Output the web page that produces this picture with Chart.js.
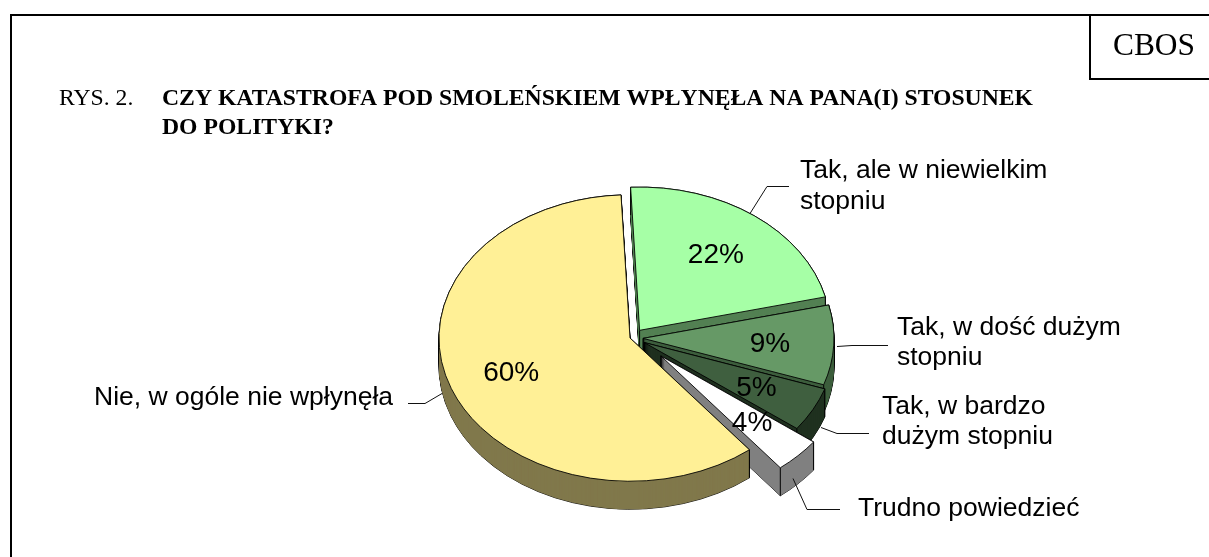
<!DOCTYPE html>
<html lang="pl">
<head>
<meta charset="utf-8">
<title>CBOS</title>
<script src="https://cdn.jsdelivr.net/npm/chart.js@4/dist/chart.umd.min.js"></script>
<style>html,body{margin:0;padding:0;background:#fff}canvas{display:block}</style>
</head>
<body>
<canvas id="c" width="1209" height="557"></canvas>
<script>
const categories = ['Tak, ale w niewielkim stopniu','Tak, w dość dużym stopniu','Tak, w bardzo dużym stopniu','Trudno powiedzieć','Nie, w ogóle nie wpłynęła'];
const percentValues = [22, 9, 5, 4, 60];
const topColors  = ['#A6FFA6','#669966','#3F5F3F','#FFFFFF','#FFF096'];
const sideColors = ['#538053','#3D5E3D','#1F301F','#808080','#80784B'];
const explodePx = [16, 13, 16, 43, 0];
const tilt = 0.75, explodeTilt = 0.6, depth = 28;
const labelFraction = 0.665;
const titleLines = ['CZY KATASTROFA POD SMOLEŃSKIEM WPŁYNĘŁA NA PANA(I) STOSUNEK','DO POLITYKI?'];
const figureLabel = 'RYS. 2.';
const brand = 'CBOS';
const callouts = [
  {lines:['Tak, ale w niewielkim','stopniu'], x:800, y:178, lh:31, path:[[750,213],[767,186],[789,186]]},
  {lines:['Tak, w dość dużym','stopniu'], x:897, y:335, lh:30, path:[[837,346],[852,345],[888,345]]},
  {lines:['Tak, w bardzo','dużym stopniu'], x:882, y:414, lh:30, path:[[821,427],[837,433],[869,433]]},
  {lines:['Trudno powiedzieć'], x:858, y:516, lh:30, path:[[793,478],[807,509],[840,509]]},
  {lines:['Nie, w ogóle nie wpłynęła'], x:94, y:405, lh:30, path:[[442,393],[425,403],[408,403]]}
];

const pie3d = {
  id:'pie3d',
  beforeDatasetsDraw(chart){
    const ctx = chart.ctx, arcs = chart.getDatasetMeta(0).data;
    arcs.forEach((arc,i)=>{
      const mid = (arc.startAngle+arc.endAngle)/2;
      const ex = explodePx[i]*Math.cos(mid), ey = explodePx[i]*Math.sin(mid)*explodeTilt;
      const base = arc.options;
      const paint = (dy,opts)=>{
        ctx.save();
        ctx.translate(arc.x+ex, arc.y+ey+dy);
        ctx.scale(1,tilt);
        ctx.translate(-arc.x,-arc.y);
        arc.options = Object.assign({},base,opts);
        arc.draw(ctx);
        ctx.restore();
      };
      for(let d=depth;d>=0;d--) paint(d,{backgroundColor:sideColors[i],borderColor:'#000',borderWidth:1});
      for(let d=depth;d>=0;d--) paint(d,{backgroundColor:sideColors[i],borderWidth:0});
      ctx.save();
      ctx.strokeStyle='#000';ctx.lineWidth=1;
      const r = arc.outerRadius;
      [[0,0],[r*Math.cos(arc.startAngle),r*Math.sin(arc.startAngle)],[r*Math.cos(arc.endAngle),r*Math.sin(arc.endAngle)]].forEach(p=>{
        const px=arc.x+ex+p[0], py=arc.y+ey+p[1]*tilt;
        ctx.beginPath();ctx.moveTo(px,py);ctx.lineTo(px,py+depth);ctx.stroke();
      });
      ctx.restore();
      paint(0,{});
      arc.options = base;
    });
    return false;
  },
  afterDraw(chart){
    const ctx = chart.ctx, arcs = chart.getDatasetMeta(0).data;
    ctx.save();
    ctx.textBaseline='alphabetic';
    ctx.fillStyle='#000';
    // frame
    ctx.fillRect(10,14,1199,2);
    ctx.fillRect(10,14,2,543);
    ctx.fillRect(1089,14,2,66);
    ctx.fillRect(1089,78,120,2);
    // brand and title
    ctx.textAlign='left';
    ctx.font='31.4px "Liberation Serif"';
    ctx.fillText(brand,1113,55);
    ctx.font='23.7px "Liberation Serif"';
    ctx.fillText(figureLabel,59,104.5);
    ctx.font='bold 23.7px "Liberation Serif"';
    titleLines.forEach((t,i)=>ctx.fillText(t,162,104.5+i*29.5));
    // percentages on slices
    ctx.font='28px "Liberation Sans"';
    ctx.textAlign='center';ctx.textBaseline='middle';
    arcs.forEach((arc,i)=>{
      const mid=(arc.startAngle+arc.endAngle)/2, r=arc.outerRadius*labelFraction;
      const x=arc.x+explodePx[i]*Math.cos(mid)+r*Math.cos(mid);
      const y=arc.y+explodePx[i]*Math.sin(mid)*explodeTilt+r*Math.sin(mid)*tilt+1.5;
      ctx.fillText(percentValues[i]+'%',x,y);
    });
    // callouts
    ctx.textAlign='left';ctx.textBaseline='alphabetic';
    ctx.font='26.5px "Liberation Sans"';
    ctx.strokeStyle='#111';ctx.lineWidth=1;
    callouts.forEach(c=>{
      c.lines.forEach((t,i)=>ctx.fillText(t,c.x,c.y+i*c.lh));
      ctx.beginPath();
      c.path.forEach((p,i)=>i?ctx.lineTo(p[0],p[1]+.5):ctx.moveTo(p[0],p[1]+.5));
      ctx.stroke();
    });
    ctx.restore();
  }
};

new Chart(document.getElementById('c'),{
  type:'pie',
  data:{labels:categories,datasets:[{data:percentValues,backgroundColor:topColors,borderColor:'#000',borderWidth:1}]},
  options:{
    responsive:false,animation:false,
    rotation:-2.7,radius:191,
    layout:{padding:{left:51,right:0,top:119,bottom:0}},
    plugins:{legend:{display:false},tooltip:{enabled:false},title:{display:false}}
  },
  plugins:[pie3d]
});
</script>
</body>
</html>
